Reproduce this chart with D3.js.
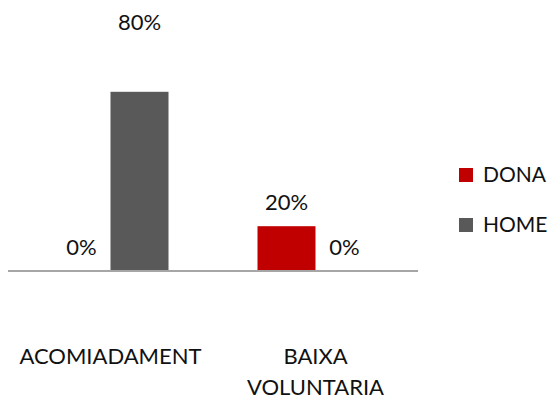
<!DOCTYPE html>
<html>
<head>
<meta charset="utf-8">
<script src="https://cdnjs.cloudflare.com/ajax/libs/d3/7.8.5/d3.min.js"></script>
<style>
	body { margin: 0; background: #fff; }
	text { font-family: Lato, "Open Sans", sans-serif; fill: #111; }
</style>
</head>
<body>
<div class="chart"></div>
<script>
	var categories = [["ACOMIADAMENT"], ["BAIXA", "VOLUNTARIA"]];
	var series = ["DONA", "HOME"];
	var dona = [0, 0.20];
	var home = [0.80, 0];
	var colors = ["#c00000", "#595959"];

	var W = 552, H = 403;
	var plot = { left : 8, right : 418, base : 271, top : 47 };

	var svg = d3.select(".chart").append("svg")
		.attr("width", W)
		.attr("height", H);

	var x0 = d3.scaleBand()
		.domain(d3.range(categories.length))
		.range([plot.left, plot.right]);

	var x1 = d3.scaleBand()
		.domain(series)
		.range([x0.bandwidth() / 2 - 58, x0.bandwidth() / 2 + 58]);

	var y = d3.scaleLinear()
		.domain([0, 1])
		.range([plot.base, plot.top]);

	var values = [dona, home];

	series.forEach(function ( s, si ) {
		var g = svg.append("g").attr("class", "series");
		g.selectAll("rect")
			.data(values[si])
			.enter()
			.append("rect")
			.attr("x", function ( d, i ) { return x0(i) + x1(s); })
			.attr("y", function ( d ) { return y(d); })
			.attr("width", x1.bandwidth())
			.attr("height", function ( d ) { return plot.base - y(d); })
			.attr("fill", colors[si]);

		g.selectAll("text")
			.data(values[si])
			.enter()
			.append("text")
			.attr("text-anchor", "middle")
			.attr("x", function ( d, i ) { return x0(i) + x1(s) + x1.bandwidth() / 2; })
			.attr("y", function ( d ) {
				// the tall bar's label sits up at the top of the chart
				return d > 0.5 ? 30 : y(d) - 16;
			})
			.style("font-size", "22px")
			.text(function ( d ) { return Math.round(d * 100) + "%"; });
	});

	// baseline
	svg.append("line")
		.attr("x1", plot.left).attr("x2", plot.right)
		.attr("y1", plot.base).attr("y2", plot.base)
		.attr("stroke", "#a6a6a6")
		.attr("stroke-width", 2);

	// category labels
	categories.forEach(function ( lines, i ) {
		var t = svg.append("text")
			.attr("text-anchor", "middle")
			.attr("x", x0(i) + x0.bandwidth() / 2)
			.attr("y", 364)
			.style("font-size", "22px");
		lines.forEach(function ( l, j ) {
			t.append("tspan")
				.attr("x", x0(i) + x0.bandwidth() / 2)
				.attr("dy", j === 0 ? 0 : 31)
				.text(l);
		});
	});

	// legend
	var legend = svg.append("g").attr("transform", "translate(459,168)");
	series.forEach(function ( s, i ) {
		var row = legend.append("g").attr("transform", "translate(0," + (i * 50) + ")");
		row.append("rect")
			.attr("width", 14).attr("height", 14)
			.attr("fill", colors[i]);
		row.append("text")
			.attr("x", 24).attr("y", 14)
			.style("font-size", "21px")
			.text(s);
	});
</script>
</body>
</html>
